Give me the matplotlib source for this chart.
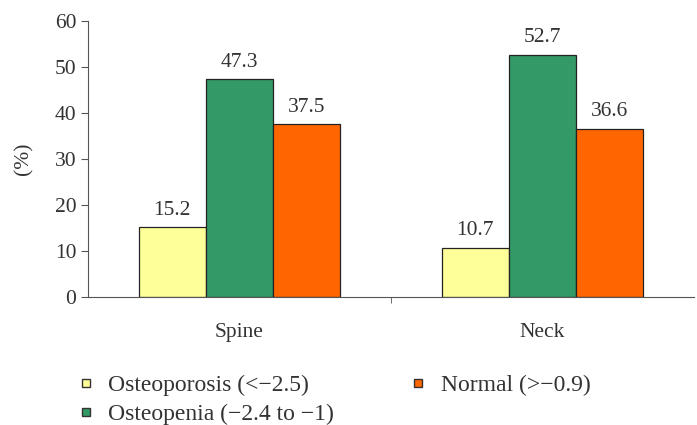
import matplotlib.pyplot as plt
import numpy as np
from matplotlib.lines import Line2D

plt.rcParams['font.family'] = ['Liberation Serif', 'DejaVu Serif']

sites = ["Spine", "Neck"]
groups = ["Osteoporosis (<\u22122.5)", "Osteopenia (\u22122.4 to \u22121)", "Normal (>\u22120.9)"]
osteoporosis = [15.2, 10.7]
osteopenia = [47.3, 52.7]
normal = [37.5, 36.6]
colors = ["#FFFF99", "#339966", "#FF6600"]
y_ticks = [0, 10, 20, 30, 40, 50, 60]

txt = "#333333"
fs = 15.5
fig = plt.figure(figsize=(6.97, 4.25), dpi=100)
ax = fig.add_axes([0.1263, 0.3012, 0.8694, 0.6494])

x = np.arange(len(sites))
w = 0.222
for i, (vals, c) in enumerate(zip([osteoporosis, osteopenia, normal], colors)):
    bars = ax.bar(x + (i - 1) * w, vals, w, color=c, edgecolor="#222222", linewidth=0.9)
    for b, v in zip(bars, vals):
        ax.text(b.get_x() + b.get_width() / 2, v + 1.6, f"{v:.1f}",
                ha="center", va="bottom", fontsize=fs, color=txt)

ax.set_xlim(-0.5, 1.5)
ax.set_ylim(0, 60)
ax.set_yticks(y_ticks)
ax.set_xticks(x)
ax.set_xticklabels(sites)
ax.set_xticks([0.5], minor=True)
ax.tick_params(axis="x", which="major", length=0, pad=19, labelsize=fs, colors=txt)
ax.tick_params(axis="x", which="minor", length=4, direction="out", color="#555555")
ax.tick_params(axis="y", length=5, direction="out", labelsize=fs, colors=txt, color="#555555")
ax.set_ylabel("(%)", fontsize=fs, color=txt, labelpad=15)

for s in ["top", "right"]:
    ax.spines[s].set_visible(False)
for s in ["left", "bottom"]:
    ax.spines[s].set_color("#555555")

# small square markers like the original legend
handles = [Line2D([], [], linestyle="none", marker="s", markersize=6,
                  markerfacecolor=c, markeredgecolor="#333333", markeredgewidth=1.0)
           for c in colors]
fig.legend(handles, groups, loc="upper left", bbox_to_anchor=(0.115, 0.118),
           ncol=2, frameon=False, fontsize=17, handlelength=0.5,
           handletextpad=0.7, columnspacing=3.3, labelspacing=0.3, labelcolor=txt,
           borderaxespad=0, borderpad=0)

fig.savefig("out.png", dpi=100)
